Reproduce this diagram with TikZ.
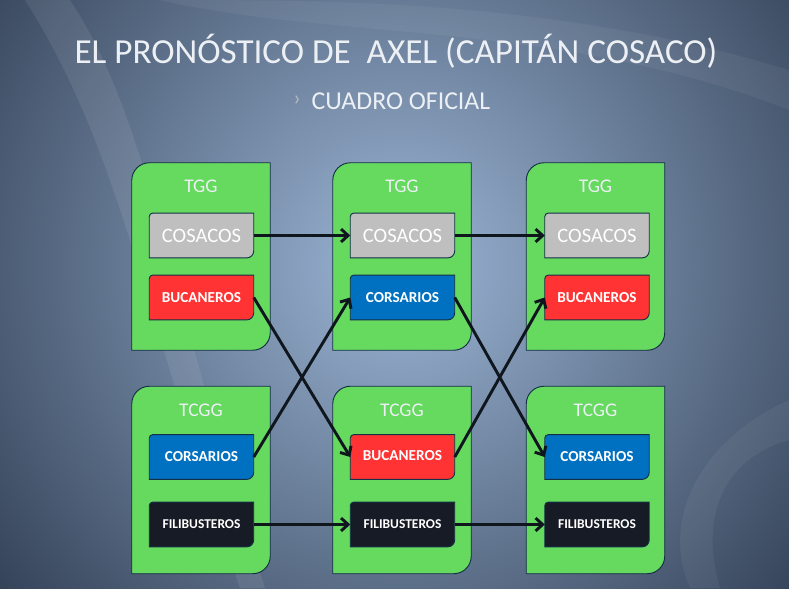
\documentclass[tikz,border=0pt]{standalone}
\usepackage{fontspec}
\setmainfont{Carlito}
\usetikzlibrary{arrows.meta,positioning}
\definecolor{SlideDark}{RGB}{44,57,78}
\definecolor{SlideLight}{RGB}{156,182,214}
\definecolor{TitleWhite}{RGB}{236,240,244}
\definecolor{BoxGreen}{RGB}{102,217,95}
\definecolor{BoxLine}{RGB}{20,48,70}
\definecolor{TeamGray}{RGB}{191,191,191}
\definecolor{TeamRed}{RGB}{255,51,51}
\definecolor{TeamBlue}{RGB}{0,112,192}
\definecolor{TeamBlack}{RGB}{23,27,38}
\definecolor{ArrowBlack}{RGB}{16,22,30}
\pgfdeclarelayer{back}
\pgfdeclarelayer{shapes}
\pgfsetlayers{back,shapes,main}

\begin{document}
\begin{tikzpicture}[
x=0.03cm, y=0.03cm,
greenbox/.style={
minimum width=4.14cm,
minimum height=5.61cm,
inner sep=0pt
},
teambox/.style={
minimum width=3.12cm,
minimum height=1.33cm,
inner sep=0pt,
text=white
},
bigname/.style={font=\fontsize{17.5}{20}\selectfont},
smallname/.style={font=\fontsize{13}{15}\selectfont\bfseries},
tinyname/.style={font=\fontsize{11.5}{14}\selectfont\bfseries},
league/.style={
text=TitleWhite,
font=\fontsize{16.5}{19}\selectfont
},
pass/.style={
-{Straight Barb[length=6pt,width=11pt]},
line width=2.5pt,
draw=ArrowBlack
}
]

\useasboundingbox (0,0) rectangle (789,-588);

\begin{pgfonlayer}{back}
\fill[SlideDark] (0,0) rectangle (789,-588);
\begin{scope}
\clip (0,0) rectangle (789,-588);
\shade[inner color=SlideLight, outer color=SlideDark] (400,-265) circle (560);
\fill[white, opacity=0.08] (70,0) .. controls (150,-120) and (170,-300) .. (265,-588) -- (240,-588) .. controls (140,-300) and (120,-150) .. (25,0) -- cycle;
\fill[white, opacity=0.05] (160,0) .. controls (330,-40) and (560,-20) .. (789,-110) -- (789,-70) .. controls (560,0) and (330,0) .. (160,0) -- cycle;
\fill[white, opacity=0.05] (789,-400) .. controls (700,-440) and (660,-520) .. (690,-588) -- (720,-588) .. controls (700,-520) and (720,-460) .. (789,-440) -- cycle;
\end{scope}
\end{pgfonlayer}

\node[text=TitleWhite, font=\fontsize{30}{36}\selectfont] (title) at (396,-51) {EL PRONÓSTICO DE\ \ AXEL (CAPITÁN COSACO)};
\node[text=TitleWhite, font=\fontsize{22}{26}\selectfont] (sub) at (401,-101) {CUADRO OFICIAL};
\node[text=TitleWhite!70!SlideDark, font=\fontsize{19}{22}\selectfont, left=0.08cm of sub] (bullet) {›};

\node[greenbox] (tgg1) at (201,-256.5) {};
\node[greenbox] (tgg2) at (402,-256.5) {};
\node[greenbox] (tgg3) at (595.5,-256.5) {};
\node[greenbox] (tcgg1) at (201,-480) {};
\node[greenbox] (tcgg2) at (402,-480) {};
\node[greenbox] (tcgg3) at (595.5,-480) {};

\node[league] at (201,-186) {TGG};
\node[league] at (402,-186) {TGG};
\node[league] at (595.5,-186) {TGG};
\node[league] at (201,-410) {TCGG};
\node[league] at (402,-410) {TCGG};
\node[league] at (595.5,-410) {TCGG};

\node[teambox, bigname] (cos1) at (201.5,-235.5) {COSACOS};
\node[teambox, bigname] (cos2) at (402.5,-235.5) {COSACOS};
\node[teambox, bigname] (cos3) at (597,-235.5) {COSACOS};
\node[teambox, smallname] (buc1) at (201.5,-297.5) {BUCANEROS};
\node[teambox, smallname] (cor2) at (402.5,-297.5) {CORSARIOS};
\node[teambox, smallname] (buc3) at (597,-297.5) {BUCANEROS};
\node[teambox, smallname] (cor1) at (201.5,-457) {CORSARIOS};
\node[teambox, smallname] (buc2) at (402.5,-457) {\raisebox{2pt}{BUCANEROS}};
\node[teambox, smallname] (cor3) at (597,-457) {CORSARIOS};
\node[teambox, tinyname] (fil1) at (201.5,-524.5) {FILIBUSTEROS};
\node[teambox, tinyname] (fil2) at (402.5,-524.5) {FILIBUSTEROS};
\node[teambox, tinyname] (fil3) at (597,-524.5) {FILIBUSTEROS};

\begin{pgfonlayer}{shapes}
\foreach \n in {tgg1,tgg2,tgg3,tcgg1,tcgg2,tcgg3}
\filldraw[fill=BoxGreen, draw=BoxLine, line width=0.8pt]
([yshift=-15pt]\n.north west) arc[start angle=180, end angle=90, radius=15pt]
-- (\n.north east) -- ([yshift=15pt]\n.south east)
arc[start angle=0, end angle=-90, radius=15pt] -- (\n.south west) -- cycle;
\foreach \n/\c in {cos1/TeamGray,cos2/TeamGray,cos3/TeamGray,
buc1/TeamRed,cor2/TeamBlue,buc3/TeamRed,
cor1/TeamBlue,buc2/TeamRed,cor3/TeamBlue,
fil1/TeamBlack,fil2/TeamBlack,fil3/TeamBlack}
\filldraw[fill=\c, draw=BoxLine, line width=0.8pt]
([yshift=-3pt]\n.north west) arc[start angle=180, end angle=90, radius=3pt]
-- (\n.north east) -- ([yshift=6pt]\n.south east)
arc[start angle=0, end angle=-90, radius=6pt] -- (\n.south west) -- cycle;
\end{pgfonlayer}

\draw[pass] (cos1.east) -- (cos2.west);
\draw[pass] (cos2.east) -- (cos3.west);
\draw[pass] (buc1.east) -- (buc2.west);
\draw[pass] (cor1.east) -- (cor2.west);
\draw[pass] (cor2.east) -- (cor3.west);
\draw[pass] (buc2.east) -- (buc3.west);
\draw[pass] (fil1.east) -- (fil2.west);
\draw[pass] (fil2.east) -- (fil3.west);
\end{tikzpicture}
\end{document}
